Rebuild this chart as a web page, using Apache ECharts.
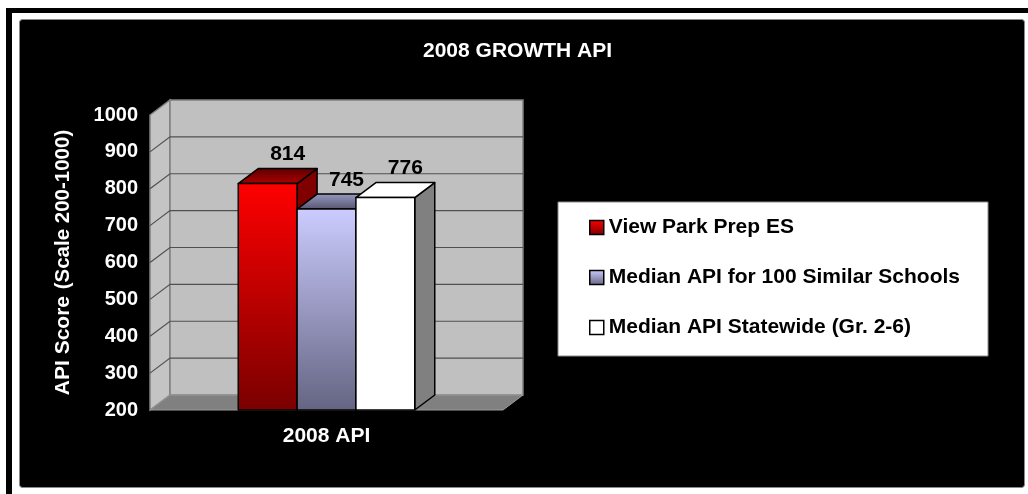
<!DOCTYPE html>
<html>
<head>
<meta charset="utf-8">
<script src="https://cdn.jsdelivr.net/npm/echarts@6/dist/echarts.min.js"></script>
<style>
  html, body { margin: 0; padding: 0; background: #fff; }
  #main { width: 1028px; height: 494px; }
</style>
</head>
<body>
<div id="main"></div>
<script>
// data
var categories = ['2008 API'];
var seriesNames = ['View Park Prep ES', 'Median API for 100 Similar Schools', 'Median API Statewide (Gr. 2-6)'];
var seriesValues = [814, 745, 776];
var yTicks = [200, 300, 400, 500, 600, 700, 800, 900, 1000];

var FONT = '"Liberation Sans", Arial, sans-serif';
var DX = 20, DY = -15; // depth of the fake 3d box
var yMin = yTicks[0], yMax = yTicks[yTicks.length - 1];

var LG = echarts.graphic.LinearGradient;
// front / top / side colours of every bar
var barFaces = [
  {
    front: new LG(0, 0, 0, 1, [{offset: 0, color: '#ff0000'}, {offset: 1, color: '#7a0000'}]),
    top: new LG(0, 0, 0, 1, [{offset: 0, color: '#5a0000'}, {offset: 1, color: '#b00000'}]),
    side: '#800000'
  },
  {
    front: new LG(0, 0, 0, 1, [{offset: 0, color: '#ccccff'}, {offset: 1, color: '#646482'}]),
    top: new LG(0, 0, 0, 1, [{offset: 0, color: '#9a9ac4'}, {offset: 1, color: '#55556e'}]),
    side: '#55556e'
  },
  {
    front: '#ffffff',
    top: '#ffffff',
    side: '#808080'
  }
];

function renderWalls(params, api) {
  var cs = params.coordSys;
  var x0 = cs.x, x1 = cs.x + cs.width;
  var yb = api.coord([0, yMin])[1];
  var yt = api.coord([0, yMax])[1];
  var kids = [];
  // left side wall
  kids.push({
    type: 'polygon',
    shape: {points: [[x0, yb], [x0 + DX, yb + DY], [x0 + DX, yt + DY], [x0, yt]]},
    style: {fill: '#c4c4c4', stroke: '#808080', lineWidth: 1.5}
  });
  // back wall
  kids.push({
    type: 'rect',
    shape: {x: x0 + DX, y: yt + DY, width: x1 - x0, height: yb - yt},
    style: {fill: '#c0c0c0', stroke: '#808080', lineWidth: 1.5}
  });
  // grid lines
  for (var i = 1; i < yTicks.length - 1; i++) {
    var y = api.coord([0, yTicks[i]])[1];
    kids.push({
      type: 'polyline',
      shape: {points: [[x0, y], [x0 + DX, y + DY], [x1 + DX, y + DY]]},
      style: {stroke: '#505050', lineWidth: 1.2, fill: null}
    });
  }
  // floor
  kids.push({
    type: 'polygon',
    shape: {points: [[x0, yb], [x1, yb], [x1 + DX, yb + DY], [x0 + DX, yb + DY]]},
    style: {fill: '#808080', stroke: '#9a9a9a', lineWidth: 1}
  });
  return {type: 'group', children: kids};
}

function renderBar(params, api) {
  var idx = params.seriesIndex - 1;
  var band = api.size([1, 0])[0];
  var w = band / 6;
  var top = api.coord([api.value(0), api.value(1)]);
  var base = api.coord([api.value(0), yMin]);
  var l = top[0] + (idx - 1.5) * w;
  var r = l + w;
  var yt = top[1], yb = base[1];
  var f = barFaces[idx];
  var line = {stroke: '#000', lineWidth: 1.5, lineJoin: 'round'};
  return {
    type: 'group',
    children: [
      {
        type: 'polygon',
        shape: {points: [[r, yb], [r + DX, yb + DY], [r + DX, yt + DY], [r, yt]]},
        style: Object.assign({fill: f.side}, line)
      },
      {
        type: 'polygon',
        shape: {points: [[l, yt], [r, yt], [r + DX, yt + DY], [l + DX, yt + DY]]},
        style: Object.assign({fill: f.top}, line)
      },
      {
        type: 'rect',
        shape: {x: l, y: yt, width: w, height: yb - yt},
        style: Object.assign({fill: f.front}, line)
      },
      {
        type: 'text',
        style: {
          text: String(api.value(1)),
          x: (l + r) / 2 + DX,
          y: yt + DY - 14,
          fill: '#000',
          fontSize: 21,
          fontWeight: 'bold',
          fontFamily: FONT,
          align: 'center',
          verticalAlign: 'middle',
          textAlign: 'center',
          textVerticalAlign: 'middle'
        }
      }
    ]
  };
}

var series = [{
  type: 'custom',
  renderItem: renderWalls,
  data: [[0, yMin]],
  clip: false,
  silent: true,
  z: 1
}];
seriesNames.forEach(function (name, i) {
  series.push({
    name: name,
    type: 'custom',
    renderItem: renderBar,
    data: [[0, seriesValues[i]]],
    clip: false,
    z: 2 + i,
    itemStyle: {color: barFaces[i].front}
  });
});

var chart = echarts.init(document.getElementById('main'));
chart.setOption({
  animation: false,
  backgroundColor: '#fff',
  graphic: [
    {type: 'rect', z: -10, shape: {x: 6, y: 8, width: 1030, height: 490}, style: {fill: '#000'}},
    {type: 'rect', z: -9, shape: {x: 12, y: 13, width: 1030, height: 490}, style: {fill: '#fff'}},
    {type: 'rect', z: -8, shape: {x: 19.5, y: 19.5, width: 1005, height: 468, r: 3}, style: {fill: '#000', stroke: '#8a8a8a', lineWidth: 1}}
  ],
  title: {
    text: '2008 GROWTH API',
    left: 423,
    top: 41,
    padding: 0,
    textStyle: {color: '#fff', fontSize: 21, fontWeight: 'bold', fontFamily: FONT}
  },
  legend: {
    data: seriesNames,
    orient: 'vertical',
    left: 558,
    top: 202,
    padding: [15, 28, 18, 31],
    itemGap: 29,
    itemWidth: 14,
    itemHeight: 14,
    icon: 'rect',
    backgroundColor: '#fff',
    borderColor: '#8a8a8a',
    borderWidth: 1,
    itemStyle: {borderColor: '#000', borderWidth: 1.5},
    textStyle: {color: '#000', fontSize: 21, fontWeight: 'bold', fontFamily: FONT, lineHeight: 21},
    selectedMode: false
  },
  grid: {left: 150, right: 525, top: 115, bottom: 84},
  xAxis: {
    type: 'category',
    data: categories,
    axisLine: {show: false},
    axisTick: {show: false},
    axisLabel: {color: '#fff', fontSize: 21, fontWeight: 'bold', fontFamily: FONT, margin: 16}
  },
  yAxis: {
    type: 'value',
    min: yMin,
    max: yMax,
    interval: 100,
    axisLine: {show: false},
    axisTick: {show: false},
    splitLine: {show: false},
    axisLabel: {
      color: '#fff', fontSize: 20, fontWeight: 'bold', fontFamily: FONT, margin: 12,
      formatter: function (v) { return String(v); }
    },
    name: '{a|API Score}  {b|(Scale 200-1000)}',
    nameLocation: 'middle',
    nameRotate: 90,
    nameGap: 76,
    nameTextStyle: {
      color: '#fff',
      fontFamily: FONT,
      rich: {
        a: {color: '#fff', fontSize: 21, fontWeight: 'bold', fontFamily: FONT},
        b: {color: '#fff', fontSize: 20.5, fontWeight: 'bold', fontFamily: FONT}
      }
    }
  },
  series: series
});
</script>
</body>
</html>
